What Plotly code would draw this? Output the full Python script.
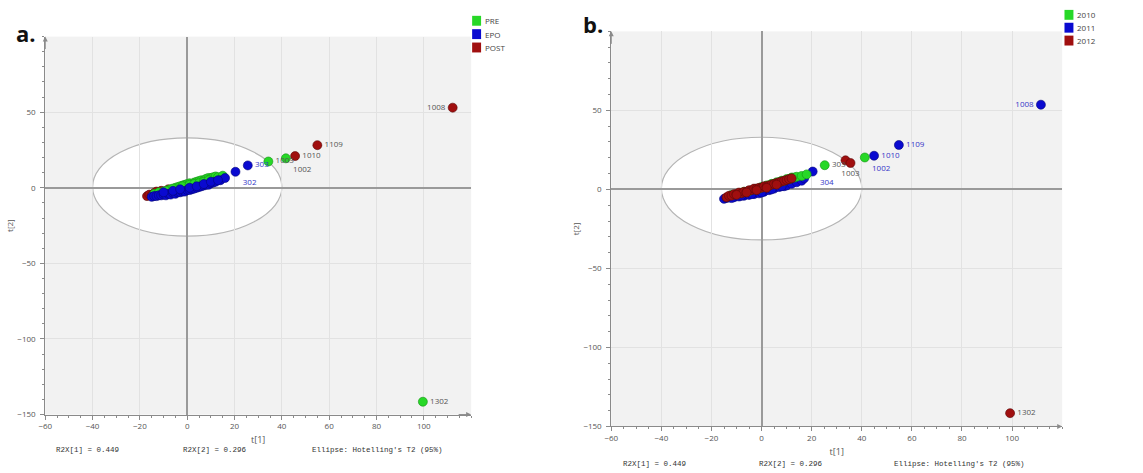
import plotly.graph_objects as go

# ---------------- data: panel a (grouped by period) ----------------
a_pre_x = [-14, -12, -10, -8, -7, -5, -4, -3, -2, -1, 0, 1, 2, 3, 4, 5, 6, 7, 8, 9, 10, 11, 12, 13, 15, -6, -9, -2, 1, 3, 5, 7, 9, 34.3, 41.7, 99.6]
a_pre_y = [-4, -3, -2.5, -1.5, -1, 0, 0.5, 1, 1.5, 2, 2.5, 3, 2.5, 3.5, 4, 4.5, 5, 5, 6, 6.5, 6.5, 7, 7.5, 7, 8, -0.5, -2, 1, 2, 2.5, 3, 4, 5, 17.4, 19.5, -141.5]
a_epo_x = [-15, -14, -13, -12, -11, -10, -9, -8, -7, -6, -5, -4, -3, -2, -1, 0, 1, 2, 3, 4, 5, 6, 7, 8, 9, 10, 11, 12, 14, 16, -10, -6, -3, 1, 4, 7, 10, 13, 20.4, 25.6]
a_epo_y = [-6, -5.5, -5.5, -5, -5, -4.5, -5, -4, -4.5, -3.5, -4, -3, -3, -2.5, -2.5, -1.5, -1.5, -1, -0.5, 0, 0.5, 1, 1.5, 2, 2, 3, 3.5, 4, 5, 6.5, -3, -2, -1, 0, 1, 2.5, 4, 5, 10.6, 14.8]
a_post_x = [-17, -16, -15, -14, -13, -12, -11, -10, -9, -8, -7, -6, -5, -4, -3, -2, -1, 0, 1, 2, 3, 4, 5, 6, 8, 10, 12, -13, -11, -8, -4, 0, 3, 45.6, 55.0, 112.2]
a_post_y = [-5.5, -4.5, -5, -3.5, -4, -3, -3.5, -2.5, -2.5, -2, -1.5, -2, -1, -1, -0.5, 0, 0, 0.5, 1, 1.5, 1.5, 2.5, 2, 3, 4, 4.5, 6, -2.5, -2, -1, 0, 1.5, 3, 21.0, 28.2, 53.0]
a_lab_x = [112.2, 55.0, 45.6, 41.7, 34.3, 25.6, 20.4, 99.6]
a_lab_y = [53.0, 28.2, 21.0, 19.5, 17.4, 14.8, 10.6, -141.5]
a_lab_t = ["1008", "1109", "1010", "1002", "1003", "303", "302", "1302"]
a_lab_c = ["#555", "#555", "#555", "#555", "#555", "#3535c8", "#3535c8", "#555"]
a_lab_p = ["middle left", "middle right", "middle right", "bottom right", "middle right", "middle right", "bottom right", "middle right"]

# ---------------- data: panel b (grouped by year) ----------------
b_2010_x = [-12, -9, -7, -5, -3, -1, 0, 1, 2, 3, 4, 5, 6, 7, 8, 9, 10, 11, 12, 13, 14, 16, 18, -6, -2, 2, 6, 41.2, 25.2]
b_2010_y = [-3.5, -2.5, -1.5, -1, 0, 0.5, 1.5, 1.5, 2.5, 2.5, 3.5, 3.5, 4.5, 4.5, 5.5, 5.5, 6.5, 6.5, 7.5, 7.5, 8, 8.5, 9.5, -1.5, 0, 1.5, 3.5, 20.2, 15.3]
b_2011_x = [-15, -14, -13, -11, -9, -7, -5, -3, -1, 1, 3, 5, 7, 9, 10, 12, 14, 16, 17, -12, -8, -4, 0, 4, 8, 20.4, 44.9, 54.8, 111.5]
b_2011_y = [-6, -5.5, -5, -5, -4.5, -4, -3.5, -3, -2.5, -1.5, -0.5, 0.5, 1.5, 2, 2.5, 3.5, 4.5, 5.5, 7, -5.5, -4, -3, -2, 0, 2, 11.3, 21.3, 28.1, 53.6]
b_2012_x = [-14, -13, -12, -11, -10, -9, -8, -7, -6, -5, -4, -3, -2, -1, 0, 1, 2, 3, 4, 5, 6, 7, 8, 9, 10, 11, 12, -10, -6, -2, 2, 6, 33.5, 35.5, 99.2]
b_2012_y = [-5, -4, -4, -3, -3, -2, -2.5, -1.5, -1.5, -0.5, -0.5, 0.5, 0.5, 1, 1, 2, 2, 2.5, 3, 3.5, 4, 4.5, 5, 5.5, 6, 6.5, 7, -3.5, -2, -0.5, 1, 3, 18.4, 16.7, -141.6]
b_lab_x = [111.5, 54.8, 44.9, 41.2, 35.5, 25.2, 20.4, 99.2]
b_lab_y = [53.6, 28.1, 21.3, 20.2, 16.7, 15.3, 11.3, -141.6]
b_lab_t = ["1008", "1109", "1010", "1002", "1003", "303", "304", "1302"]
b_lab_c = ["#3535c8", "#3535c8", "#3535c8", "#3535c8", "#555", "#555", "#3535c8", "#555"]
b_lab_p = ["middle left", "middle right", "middle right", "bottom right", "bottom center", "middle right", "bottom right", "middle right"]

legend_a = ["PRE", "EPO", "POST"]
legend_b = ["2010", "2011", "2012"]
GREEN, BLUE, RED = "#27d827", "#0a0ad0", "#a00f0f"
EDGE = {GREEN: "#149014", BLUE: "#05057a", RED: "#5a0808"}

W, H = 1143, 473
fig = go.Figure()

def add_group(x, y, color, xa, ya, size=9):
    fig.add_trace(go.Scatter(x=x, y=y, mode="markers", xaxis=xa, yaxis=ya, showlegend=False,
                             marker=dict(color=color, size=size, line=dict(color=EDGE[color], width=0.6)),
                             hoverinfo="skip"))

def add_labels(x, y, t, c, p, xa, ya):
    # transparent markers so that the text is offset from the visible dots
    fig.add_trace(go.Scatter(x=x, y=y, text=t, mode="markers+text", xaxis=xa, yaxis=ya, showlegend=False,
                             marker=dict(size=10, color="rgba(0,0,0,0)"),
                             textposition=p, textfont=dict(size=8, color=c, family="Open Sans"),
                             hoverinfo="skip"))

def add_legend(names, x_sq, y_centers):
    for n, c, yc in zip(names, [GREEN, BLUE, RED], y_centers):
        fig.add_shape(type="rect", xref="paper", yref="paper",
                      x0=x_sq / W, x1=(x_sq + 9) / W, y0=1 - (yc + 5) / H, y1=1 - (yc - 5) / H,
                      fillcolor=c, line=dict(width=0))
        fig.add_annotation(x=(x_sq + 11) / W, y=1 - yc / H, xref="paper", yref="paper", text=n, showarrow=False,
                           xanchor="left", yanchor="middle", font=dict(size=8, color="#444", family="Open Sans"))

# panel a (EPO drawn last, as in the reference where blue dominates the band)
add_group(a_post_x, a_post_y, RED, "x", "y")
add_group(a_pre_x, a_pre_y, GREEN, "x", "y")
add_group(a_epo_x, a_epo_y, BLUE, "x", "y")
add_labels(a_lab_x, a_lab_y, a_lab_t, a_lab_c, a_lab_p, "x", "y")
add_legend(legend_a, 468, [21, 34.5, 48])
# panel b
add_group(b_2011_x, b_2011_y, BLUE, "x2", "y2")
add_group(b_2010_x, b_2010_y, GREEN, "x2", "y2")
add_group(b_2012_x, b_2012_y, RED, "x2", "y2")
add_labels(b_lab_x, b_lab_y, b_lab_t, b_lab_c, b_lab_p, "x2", "y2")
add_legend(legend_b, 1064, [15, 28, 41])

axis_common = dict(showgrid=True, gridcolor="#e2e2e2", gridwidth=1, zeroline=True, zerolinecolor="#9a9a9a",
                   zerolinewidth=1.5, showline=True, linecolor="#8a8a8a", linewidth=1, ticks="outside",
                   ticklen=4, tickcolor="#8a8a8a", tickfont=dict(size=8, color="#555", family="Open Sans"),
                   minor=dict(ticks="outside", ticklen=2, tickcolor="#8a8a8a", showgrid=False))

def xaxis(dom, anchor):
    return dict(axis_common, domain=dom, anchor=anchor, range=[-60, 120], tickvals=[-60, -40, -20, 0, 20, 40, 60, 80, 100],
                minor=dict(axis_common["minor"], dtick=5),
                title=dict(text="t[1]", font=dict(size=9, color="#555", family="Open Sans"), standoff=6))

def yaxis(dom, anchor):
    return dict(axis_common, domain=dom, anchor=anchor, range=[-150, 100], tickvals=[-150, -100, -50, 0, 50],
                minor=dict(axis_common["minor"], dtick=10), ticklabelstandoff=3,
                title=dict(text="t[2]", font=dict(size=8, color="#555", family="Open Sans"), standoff=2))

fig.update_layout(
    width=W, height=H, margin=dict(l=0, r=0, t=0, b=0),
    paper_bgcolor="white", plot_bgcolor="#f2f2f2",
    xaxis=xaxis([38.5 / W, 467 / W], "y"),
    yaxis=yaxis([1 - 419 / H, 1 - 37 / H], "x"),
    xaxis2=xaxis([608 / W, 1061.7 / W], "y2"),
    yaxis2=yaxis([1 - 431 / H, 1 - 31.7 / H], "x2"),
    showlegend=False,
)

# Hotelling T2 ellipses
for xr, yr in [("x", "y"), ("x2", "y2")]:
    fig.add_shape(type="circle", xref=xr, yref=yr, x0=-40, x1=40, y0=-32, y1=33,
                  fillcolor="white", line=dict(color="#b5b5b5", width=1.2), layer="below")

# axis arrows
for xr, yr in [("x", "y"), ("x2", "y2")]:
    fig.add_annotation(x=120, y=-150, xref=xr, yref=yr, ax=-14, ay=0, text="", showarrow=True,
                       arrowhead=2, arrowsize=1, arrowwidth=1, arrowcolor="#8a8a8a")
    fig.add_annotation(x=-60, y=100, xref=xr, yref=yr, ax=0, ay=14, text="", showarrow=True,
                       arrowhead=2, arrowsize=1, arrowwidth=1, arrowcolor="#8a8a8a")

# panel letters
fig.add_annotation(x=7 / W, y=1 - 16 / H, xref="paper", yref="paper", text="<b>a.</b>", showarrow=False,
                   xanchor="left", yanchor="top", font=dict(size=22, color="#111", family="Open Sans"))
fig.add_annotation(x=578 / W, y=1 - 7 / H, xref="paper", yref="paper", text="<b>b.</b>", showarrow=False,
                   xanchor="left", yanchor="top", font=dict(size=22, color="#111", family="Open Sans"))

# footer statistics
mono = dict(size=7.5, color="#333", family="Liberation Mono")
for x0, yy, txt in [(47, 455, "R2X[1] = 0.449"), (175, 455, "R2X[2] = 0.296"), (305, 455, "Ellipse: Hotelling's T2 (95%)"),
                    (618, 469, "R2X[1] = 0.449"), (755, 469, "R2X[2] = 0.296"), (890, 469, "Ellipse: Hotelling's T2 (95%)")]:
    fig.add_annotation(x=x0 / W, y=1 - yy / H, xref="paper", yref="paper", text=txt, showarrow=False,
                       xanchor="left", yanchor="middle", font=mono)

fig.write_html("out.html")
